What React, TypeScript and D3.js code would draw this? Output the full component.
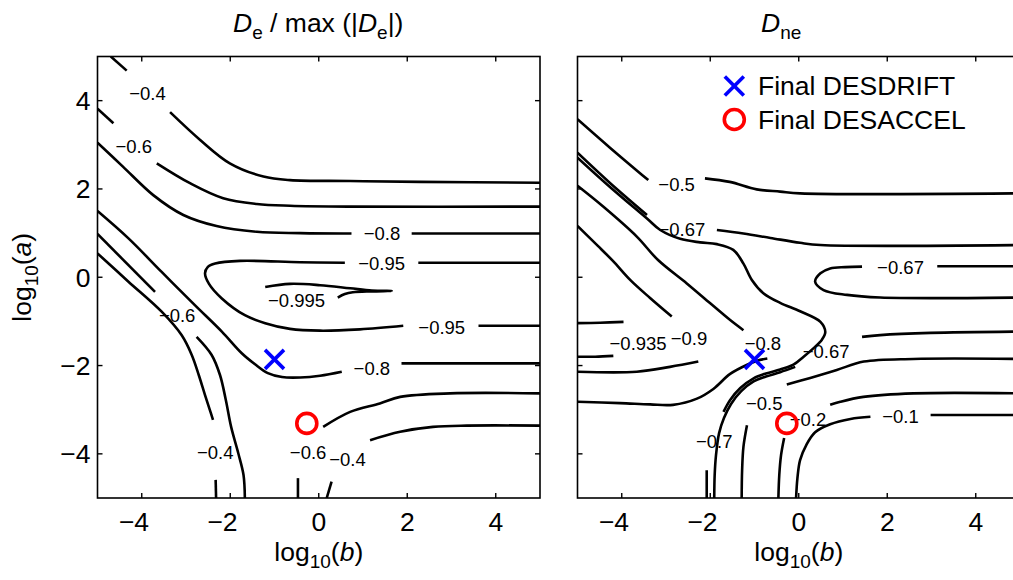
import React from "react";
import * as d3 from "d3";

// shared axis ticks (log10 scale, both axes)
const TICKS = [-4, -2, 0, 2, 4];

// ---- left panel: D_e / max(|D_e|) contour lines, [log10(b), log10(a)] ----
const deM04 = [
  [[-4.7, 5.0], [-4.34, 4.68]],
  [[-3.36, 3.74], [-2.68, 3.11], [-2.01, 2.58], [-1.25, 2.28], [-0.65, 2.2], [0.71, 2.18], [2.29, 2.16], [5, 2.14]],
  [[-5, 0.54], [-4.3, -0.1], [-3.55, -0.78], [-3.1, -1.31], [-2.87, -1.76], [-2.71, -2.22], [-2.57, -2.67], [-2.46, -3.01], [-2.39, -3.23]],
  [[-2.33, -4.59], [-2.32, -5]],
  [[0.18, -5], [0.29, -4.63]],
  [[1.16, -3.69], [1.84, -3.5], [2.58, -3.39], [3.34, -3.36], [5, -3.36]],
];
const deM06 = [
  [[-5, 3.82], [-4.64, 3.49]],
  [[-3.66, 2.58], [-2.91, 2.13], [-2.16, 1.79], [-1.4, 1.66], [-0.65, 1.62], [0.71, 1.6], [5, 1.6]],
  [[-5, 0.98], [-3.7, -0.33]],
  [[-2.76, -1.35], [-2.42, -1.76], [-2.23, -2.22], [-2.1, -2.78], [-1.98, -3.39], [-1.82, -3.98], [-1.7, -4.48], [-1.67, -5]],
  [[-0.47, -5], [-0.47, -4.55]],
  [[0.1, -3.39], [0.71, -3.05], [1.38, -2.86], [1.84, -2.71], [2.97, -2.63], [5, -2.63]],
];
const deM08 = [
  [[-5, 3.05], [-4.42, 2.5], [-3.74, 1.86], [-3.06, 1.41], [-2.31, 1.16], [-1.4, 1.03], [-0.42, 1.0], [0.74, 0.99]],
  [[2.1, 0.99], [5, 0.99]],
  [[-5, 1.5], [-4.3, 0.88], [-3.55, 0.12], [-2.8, -0.63], [-2.19, -1.23], [-1.74, -1.72], [-1.44, -1.97], [-1.15, -2.17], [-0.83, -2.26], [-0.42, -2.27], [0.03, -2.23], [0.52, -2.14]],
  [[1.87, -1.95], [5, -1.95]],
];
const deM095 = [
  [[5, 0.33], [2.25, 0.33]],
  [[0.59, 0.33], [-0.42, 0.34], [-1.78, 0.37], [-2.34, 0.31], [-2.51, 0.23], [-2.57, 0.09], [-2.48, -0.15], [-2.19, -0.48], [-1.67, -0.86], [-1.21, -1.04], [-0.65, -1.17], [0.03, -1.21], [0.93, -1.18], [1.91, -1.1]],
  [[3.61, -1.1], [5, -1.1]],
];
const deM0995 = [
  [[-1.21, -0.22], [-0.65, -0.15], [0.03, -0.18], [0.71, -0.25], [1.2, -0.3], [1.65, -0.31], [1.2, -0.32], [0.77, -0.34], [0.59, -0.38], [0.43, -0.46]],
];
const deLabels: [number, number, string][] = [
  [-3.87, 4.17, "−0.4"],
  [-4.18, 2.97, "−0.6"],
  [1.43, 0.98, "−0.8"],
  [1.42, 0.31, "−0.95"],
  [-0.5, -0.52, "−0.995"],
  [-3.2, -0.86, "−0.6"],
  [2.78, -1.13, "−0.95"],
  [1.2, -2.06, "−0.8"],
  [-2.34, -3.98, "−0.4"],
  [-0.24, -3.98, "−0.6"],
  [0.65, -4.12, "−0.4"],
];

// ---- right panel: D_ne contour lines ----
const dneM01 = [
  [[5, -3.12], [2.98, -3.12]],
  [[1.62, -3.16], [1.17, -3.21], [0.71, -3.33], [0.37, -3.51], [0.17, -3.8], [0.03, -4.14], [-0.03, -4.55], [-0.06, -5]],
];
const dneM02 = [
  [[5, -2.63], [2.59, -2.63], [1.46, -2.71], [0.94, -2.82], [0.71, -2.89]],
  [[-0.33, -3.64], [-0.4, -4.03], [-0.44, -4.48], [-0.46, -5]],
];
const dneM05 = [
  [[-5, 3.58], [-4.26, 2.93], [-3.4, 2.2]],
  [[-2.12, 2.24], [-1.56, 2.16], [-0.95, 1.99], [-0.42, 1.94], [0.03, 1.9], [5, 1.9]],
  [[5, -1.85], [2.59, -1.85], [1.47, -1.91], [0.86, -2.1], [0.26, -2.28], [-0.27, -2.43]],
  [[-1.17, -3.35], [-1.25, -3.84], [-1.28, -4.37], [-1.29, -5]],
];
const dneM067 = [
  [[-5, 2.82], [-4.26, 2.13], [-3.43, 1.41]],
  [[-1.85, 1.07], [-1.25, 0.99], [-0.64, 0.89], [0.03, 0.78], [0.49, 0.73], [5, 0.73]],
  [[5, 0.25], [3.13, 0.25]],
  [[1.43, 0.24], [1.05, 0.23], [0.71, 0.2], [0.49, 0.09], [0.37, -0.1], [0.56, -0.29], [1.09, -0.4], [1.84, -0.46], [5, -0.46]],
  [[5, -1.23], [2.98, -1.26], [1.84, -1.31], [1.43, -1.35]],
  [[-0.08, -2.03], [-0.42, -2.15], [-0.74, -2.25], [-1.02, -2.36], [-1.3, -2.58], [-1.53, -2.87], [-1.69, -3.19], [-1.8, -3.53], [-1.87, -4.03], [-1.9, -4.48], [-1.91, -5]],
];
const dneM07 = [
  [[-5, 2.71], [-4.26, 2.04], [-3.43, 1.33], [-3.13, 1.07], [-2.68, 0.87], [-2.23, 0.79], [-1.85, 0.75], [-1.48, 0.62], [-1.25, 0.31], [-1.06, -0.06], [-0.8, -0.36], [-0.42, -0.58], [0.03, -0.77], [0.49, -1.01], [0.6, -1.24], [0.52, -1.42], [0.33, -1.61], [0.11, -1.8], [-0.12, -1.98], [-0.42, -2.09], [-0.74, -2.18], [-1.02, -2.29], [-1.32, -2.51], [-1.55, -2.78], [-1.7, -3.05]],
  [[-2.08, -4.37], [-2.08, -5]],
];
const dneM08 = [
  [[-5, 2.07], [-4.42, 1.6], [-3.66, 0.92], [-3.18, 0.39], [-2.53, -0.14], [-2.0, -0.59], [-1.55, -0.97], [-1.25, -1.2]],
  [[-0.71, -1.84], [-0.94, -1.89], [-1.14, -1.97], [-1.55, -2.19], [-1.93, -2.53], [-2.3, -2.75], [-2.84, -2.89], [-3.36, -2.88], [-4.04, -2.85], [-5, -2.82]],
];
const dneM09 = [
  [[-5, 1.16], [-4.54, 0.71], [-4.2, 0.37], [-3.81, -0.06], [-3.36, -0.47], [-2.87, -0.89]],
  [[-2.27, -1.91], [-2.91, -2.03], [-3.66, -2.14], [-5, -2.14]],
];
const dneM0935 = [
  [[-5, -1.04], [-4.49, -1.03], [-3.96, -1.01]],
  [[-4.19, -1.78], [-4.6, -1.8], [-5, -1.8]],
];
const dneLabels: [number, number, string][] = [
  [-2.76, 2.09, "−0.5"],
  [-2.64, 1.07, "−0.67"],
  [2.3, 0.22, "−0.67"],
  [-3.63, -1.5, "−0.935"],
  [-2.48, -1.39, "−0.9"],
  [-0.81, -1.51, "−0.8"],
  [0.62, -1.69, "−0.67"],
  [-0.78, -2.85, "−0.5"],
  [0.21, -3.23, "−0.2"],
  [2.3, -3.16, "−0.1"],
  [-1.91, -3.73, "−0.7"],
];

// final optimiser positions
const finalDrift = [-1.0, -1.86];
const finalAccel = [-0.27, -3.31];

const FONT = "'Liberation Sans', Arial, Helvetica, sans-serif";
const FS = 26.5;
const LABEL_FS = 18.5;
const TOP = 56.5;
const PW = 442.5;
const PH = 441.5;

const Cross = ({ cx, cy }: { cx: number; cy: number }) => (
  <g stroke="#0000ff" strokeWidth={3.6}>
    <line x1={cx - 9.5} y1={cy - 9.5} x2={cx + 9.5} y2={cy + 9.5} />
    <line x1={cx - 9.5} y1={cy + 9.5} x2={cx + 9.5} y2={cy - 9.5} />
  </g>
);

const Ring = ({ cx, cy }: { cx: number; cy: number }) => (
  <circle cx={cx} cy={cy} r={10} fill="none" stroke="#ff0000" strokeWidth={3.6} />
);

type Seg = number[][];

const Panel = ({
  id,
  left,
  contours,
  labels,
  yLabels,
  children,
}: {
  id: string;
  left: number;
  contours: Seg[][];
  labels: [number, number, string][];
  yLabels: boolean;
  children?: React.ReactNode;
}) => {
  const x = d3.scaleLinear().domain([-5, 5]).range([left, left + PW]);
  const y = d3.scaleLinear().domain([-5, 5]).range([TOP + PH, TOP]);
  const line = d3
    .line<number[]>()
    .x((d) => x(d[0]))
    .y((d) => y(d[1]))
    .curve(d3.curveCatmullRom.alpha(0.5));
  const bottom = TOP + PH;
  const right = left + PW;
  const minusShift = 0.292 * FS;

  return (
    <g>
      <defs>
        <clipPath id={id}>
          <rect x={left} y={TOP} width={PW} height={PH} />
        </clipPath>
      </defs>
      <g clipPath={`url(#${id})`} fill="none" stroke="#000" strokeWidth={2.6} strokeLinejoin="round">
        {contours.flat().map((seg, i) => (
          <path key={i} d={line(seg) || ""} />
        ))}
      </g>
      <g fontFamily={FONT} fontSize={LABEL_FS} textAnchor="middle" fill="#000">
        {labels.map(([lx, ly, t], i) => (
          <text key={i} x={x(lx)} y={y(ly)} dy="0.35em">
            {t}
          </text>
        ))}
      </g>
      {children}
      <rect x={left} y={TOP} width={PW} height={PH} fill="none" stroke="#000" strokeWidth={1.6} />
      <g stroke="#000" strokeWidth={1.4}>
        {TICKS.map((t) => (
          <g key={t}>
            <line x1={x(t)} x2={x(t)} y1={bottom} y2={bottom - 5} />
            <line x1={x(t)} x2={x(t)} y1={TOP} y2={TOP + 5} />
            <line x1={left} x2={left + 5} y1={y(t)} y2={y(t)} />
            <line x1={right} x2={right - 5} y1={y(t)} y2={y(t)} />
          </g>
        ))}
      </g>
      <g fontFamily={FONT} fontSize={FS} fill="#000">
        {TICKS.map((t) => (
          <text key={t} x={x(t) - (t < 0 ? minusShift : 0)} y={531} textAnchor="middle">
            {t < 0 ? `−${-t}` : `${t}`}
          </text>
        ))}
        {yLabels &&
          TICKS.map((t) => (
            <text key={t} x={left - 7} y={y(t) + 9.5} textAnchor="end">
              {t < 0 ? `−${-t}` : `${t}`}
            </text>
          ))}
        <text x={left + PW / 2} y={561} textAnchor="middle">
          log
          <tspan fontSize={19} dy={7}>
            10
          </tspan>
          <tspan dy={-7}>(</tspan>
          <tspan fontStyle="italic">b</tspan>)
        </text>
      </g>
    </g>
  );
};

export default function App() {
  const xr = d3.scaleLinear().domain([-5, 5]).range([577.5, 577.5 + PW]);
  const xl = d3.scaleLinear().domain([-5, 5]).range([97.5, 97.5 + PW]);
  const y = d3.scaleLinear().domain([-5, 5]).range([TOP + PH, TOP]);

  return (
    <svg
      width={1013}
      height={580}
      style={{ position: "absolute", left: 0, top: 0, background: "#fff" }}
    >
      <rect width={1013} height={580} fill="#fff" />
      {/* titles */}
      <g fontFamily={FONT} fontSize={FS} fill="#000">
        <text x={233} y={31.5}>
          <tspan fontStyle="italic">D</tspan>
          <tspan fontSize={19} dy={7}>e</tspan>
          <tspan dy={-7}>{" / max (|"}</tspan>
          <tspan fontStyle="italic">D</tspan>
          <tspan fontSize={19} dy={7}>e</tspan>
          <tspan dy={-7}>|)</tspan>
        </text>
        <text x={761} y={31.5}>
          <tspan fontStyle="italic">D</tspan>
          <tspan fontSize={19} dy={7}>ne</tspan>
        </text>
        <text transform={`translate(31,${TOP + PH / 2}) rotate(-90)`} textAnchor="middle">
          log
          <tspan fontSize={19} dy={7}>
            10
          </tspan>
          <tspan dy={-7}>(</tspan>
          <tspan fontStyle="italic">a</tspan>)
        </text>
      </g>

      <Panel id="clipL" left={97.5} contours={[deM04, deM06, deM08, deM095, deM0995]} labels={deLabels} yLabels>
        <Cross cx={xl(finalDrift[0])} cy={y(finalDrift[1])} />
        <Ring cx={xl(finalAccel[0])} cy={y(finalAccel[1])} />
      </Panel>

      <Panel
        id="clipR"
        left={577.5}
        contours={[dneM01, dneM02, dneM05, dneM067, dneM07, dneM08, dneM09, dneM0935]}
        labels={dneLabels}
        yLabels={false}
      >
        <Cross cx={xr(finalDrift[0])} cy={y(finalDrift[1])} />
        <Ring cx={xr(finalAccel[0])} cy={y(finalAccel[1])} />
        {/* legend */}
        <Cross cx={734.3} cy={86} />
        <Ring cx={734.3} cy={119.5} />
        <g fontFamily={FONT} fontSize={FS} fill="#000">
          <text x={758} y={95}>Final DESDRIFT</text>
          <text x={758} y={128.5}>Final DESACCEL</text>
        </g>
      </Panel>
    </svg>
  );
}
